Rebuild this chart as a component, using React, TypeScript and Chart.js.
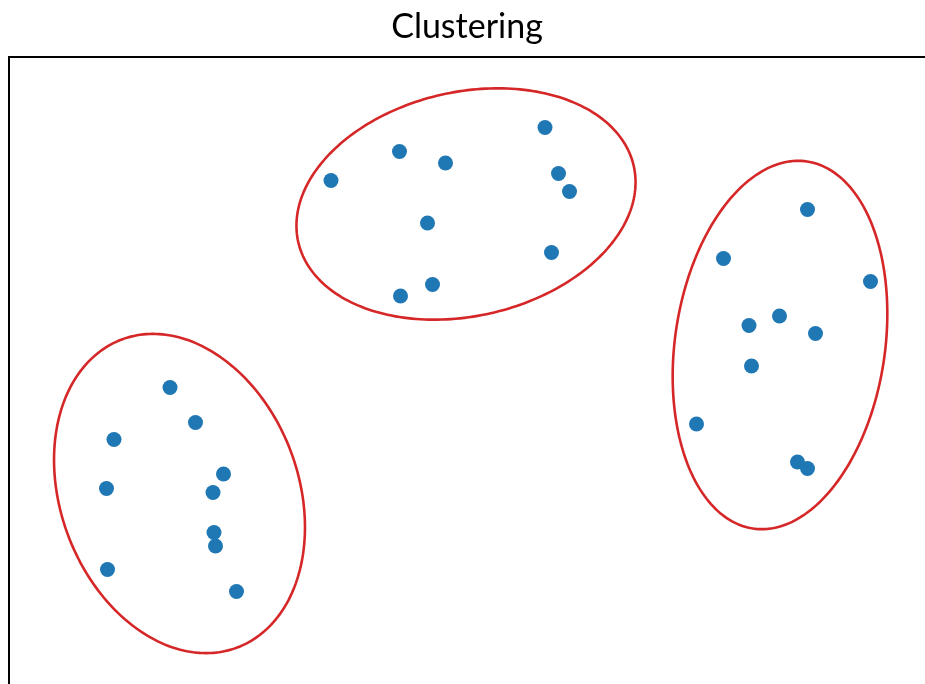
import React, { useEffect, useRef } from "react";
import { Chart, registerables } from "chart.js";

Chart.register(...registerables);

// Cluster points (data units)
const cluster1X = [3.22, 3.73, 2.10, 4.29, 1.95, 4.08, 4.10, 4.13, 1.97, 4.55];
const cluster1Y = [5.93, 5.23, 4.89, 4.20, 3.91, 3.83, 3.03, 2.76, 2.29, 1.85];
const cluster2X = [10.72, 7.81, 8.73, 6.44, 10.99, 11.21, 8.37, 10.85, 8.47, 7.83];
const cluster2Y = [11.13, 10.65, 10.42, 10.07, 10.21, 9.85, 9.22, 8.63, 7.99, 7.76];
const cluster3X = [15.97, 14.29, 17.23, 15.41, 14.80, 16.13, 14.85, 13.75, 15.77, 15.97];
const cluster3Y = [9.49, 8.51, 8.05, 7.36, 7.17, 7.01, 6.36, 5.20, 4.44, 4.31];

// Ellipses: center x, center y, semi-major, semi-minor, angle (degrees, CCW from +x)
const ellipseCX = [3.41, 9.14, 15.42];
const ellipseCY = [3.81, 9.6, 6.78];
const ellipseA = [3.29, 3.44, 3.71];
const ellipseB = [2.38, 2.24, 2.1];
const ellipseAngle = [110.5, 12.8, 81.66];

const xMin = 0;
const xMax = 18.32;
const yMin = 0;
const yMax = 12.54;

const titleText = "Clustering";

const ellipsePlugin = {
  id: "ellipses",
  afterDatasetsDraw(chart: any) {
    const ctx = chart.ctx;
    const xs = chart.scales.x;
    const ys = chart.scales.y;
    ctx.save();
    ctx.strokeStyle = "#d62728";
    ctx.lineWidth = 2.6;
    for (let i = 0; i < ellipseCX.length; i++) {
      const phi = (ellipseAngle[i] * Math.PI) / 180;
      const steps = 240;
      ctx.beginPath();
      for (let s = 0; s <= steps; s++) {
        const t = (s / steps) * Math.PI * 2;
        const dx = ellipseA[i] * Math.cos(t);
        const dy = ellipseB[i] * Math.sin(t);
        const x = ellipseCX[i] + dx * Math.cos(phi) - dy * Math.sin(phi);
        const y = ellipseCY[i] + dx * Math.sin(phi) + dy * Math.cos(phi);
        const px = xs.getPixelForValue(x);
        const py = ys.getPixelForValue(y);
        if (s === 0) ctx.moveTo(px, py);
        else ctx.lineTo(px, py);
      }
      ctx.closePath();
      ctx.stroke();
    }
    ctx.restore();
  },
};

const toPoints = (xs: number[], ys: number[]) => xs.map((x, i) => ({ x, y: ys[i] }));

export default function App() {
  const ref = useRef<HTMLCanvasElement>(null);
  useEffect(() => {
    document.documentElement.style.overflow = "hidden";
    document.body.style.overflow = "hidden";
    if (!ref.current) return;
    const pointStyle = {
      backgroundColor: "#1f77b4",
      borderWidth: 0,
      pointRadius: 7.5,
      pointHoverRadius: 7.5,
    };
    const chart = new Chart(ref.current, {
      type: "scatter",
      data: {
        datasets: [
          { label: "Cluster 1", data: toPoints(cluster1X, cluster1Y), ...pointStyle },
          { label: "Cluster 2", data: toPoints(cluster2X, cluster2Y), ...pointStyle },
          { label: "Cluster 3", data: toPoints(cluster3X, cluster3Y), ...pointStyle },
        ],
      },
      options: {
        animation: false,
        responsive: true,
        maintainAspectRatio: false,
        layout: { autoPadding: false, padding: { left: 1, top: 0, right: 0, bottom: 0 } },
        plugins: {
          legend: { display: false },
          tooltip: { enabled: false },
          title: {
            display: true,
            text: titleText,
            color: "#000",
            font: { family: "Lato, 'DejaVu Sans', sans-serif", size: 34, weight: "normal", lineHeight: 1 },
            padding: { top: 2, bottom: 13 },
          },
        },
        scales: {
          x: {
            type: "linear",
            position: "top",
            min: xMin,
            max: xMax,
            grid: { display: false, drawTicks: false, tickLength: 0 },
            ticks: { display: false },
            border: { display: true, color: "#000", width: 2 },
          },
          y: {
            type: "linear",
            position: "left",
            min: yMin,
            max: yMax,
            grid: { display: false, drawTicks: false, tickLength: 0 },
            ticks: { display: false },
            border: { display: true, color: "#000", width: 2 },
          },
        },
      },
      plugins: [ellipsePlugin],
    });
    return () => chart.destroy();
  }, []);
  return (
    <div style={{ position: "fixed", left: 8, top: 8, width: 917, height: 676 }}>
      <canvas ref={ref} />
    </div>
  );
}
